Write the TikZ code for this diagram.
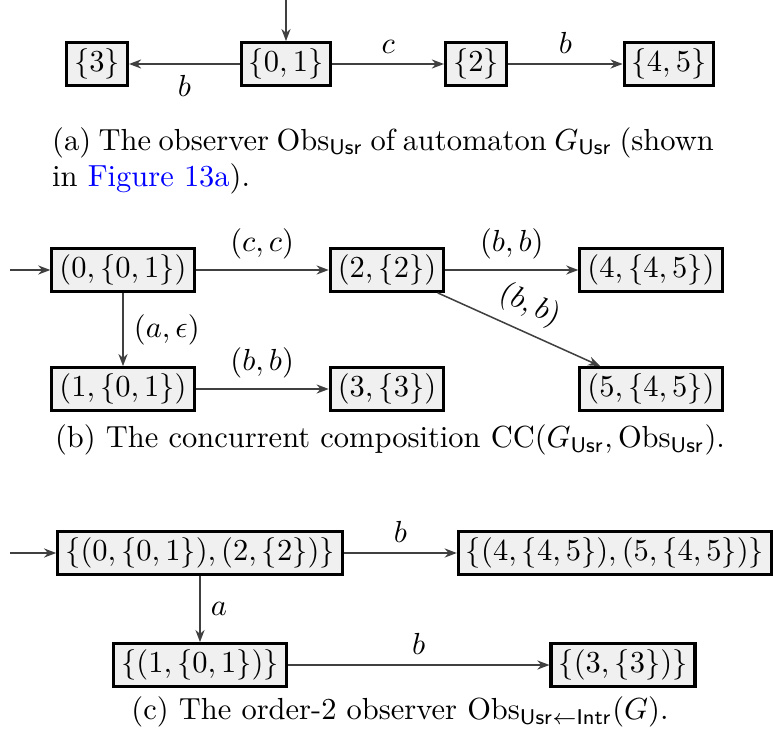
\documentclass[tikz,border=0pt]{standalone}
\usepackage{amsmath,amssymb}
\usepackage{tikz}
\usetikzlibrary{arrows.meta,positioning}
\tikzset{
  obs/state/.style={draw, line width=1pt, fill=black!6, inner xsep=2.5pt, inner ysep=2pt},
  obs/trans/.style={-{Stealth[length=4pt,width=3pt]}, draw=black!75, line width=0.5pt},
  obs/caption/.style={inner sep=0pt, align=center}
}
\newcommand{\usr}{\mathsf{Usr}}

\begin{document}
\begin{tikzpicture}[x=0.328pt, y=-0.328pt]
  \useasboundingbox (0,0) rectangle (773,735);

  % (a) observer
  \node[obs/state] (a01) at (286,64) {$\{0,1\}$};
  \node[obs/state] (a3) at (97,64) {$\{3\}$};
  \node[obs/state] (a2) at (476,64) {$\{2\}$};
  \node[obs/state] (a45) at (669,64) {$\{4,5\}$};
  \coordinate (ainit) at (286,0);

  \draw[obs/trans] (ainit) -- (a01);
  \draw[obs/trans] (a01) -- node[below] {$b$} (a3);
  \draw[obs/trans] (a01) -- node[above] {$c$} (a2);
  \draw[obs/trans] (a2) -- node[above] {$b$} (a45);

  \node[obs/caption, text width=217pt, align=justify] (acap) at (383,161)
    {(a) The observer $\mathrm{Obs}_{\usr}$ of automaton $G_{\usr}$ (shown in \textcolor{blue}{Figure 13a}).};

  % (b) concurrent composition
  \node[obs/state] (b001) at (123,270) {$(0,\{0,1\})$};
  \node[obs/state] (b22) at (387,270) {$(2,\{2\})$};
  \node[obs/state] (b445) at (651,270) {$(4,\{4,5\})$};
  \node[obs/state] (b101) at (123,389) {$(1,\{0,1\})$};
  \node[obs/state] (b33) at (387,389) {$(3,\{3\})$};
  \node[obs/state] (b545) at (651,389) {$(5,\{4,5\})$};
  \coordinate (binit) at (10,270);

  \draw[obs/trans] (binit) -- (b001);
  \draw[obs/trans] (b001) -- node[above] {$(c,c)$} (b22);
  \draw[obs/trans] (b22) -- node[above] {$(b,b)$} (b445);
  \draw[obs/trans] (b22) -- node[above, sloped] {$(b,b)$} (b545);
  \draw[obs/trans] (b001) -- node[right] {$(a,\epsilon)$} (b101);
  \draw[obs/trans] (b101) -- node[above] {$(b,b)$} (b33);

  \node[obs/caption] (bcap) at (390,440)
    {(b) The concurrent composition $\mathrm{CC}(G_{\usr},\mathrm{Obs}_{\usr})$.};

  % (c) order-2 observer
  \node[obs/state] (c0) at (200,553) {$\{(0,\{0,1\}),(2,\{2\})\}$};
  \node[obs/state] (c4) at (615,553) {$\{(4,\{4,5\}),(5,\{4,5\})\}$};
  \node[obs/state] (c1) at (200,665) {$\{(1,\{0,1\})\}$};
  \node[obs/state] (c3) at (623,665) {$\{(3,\{3\})\}$};
  \coordinate (cinit) at (10,553);

  \draw[obs/trans] (cinit) -- (c0);
  \draw[obs/trans] (c0) -- node[above] {$b$} (c4);
  \draw[obs/trans] (c0) -- node[right] {$a$} (c1);
  \draw[obs/trans] (c1) -- node[above] {$b$} (c3);

  \node[obs/caption] (ccap) at (400,712)
    {(c) The order-2 observer $\mathrm{Obs}_{\usr\leftarrow\mathsf{Intr}}(G)$.};
\end{tikzpicture}
\end{document}
